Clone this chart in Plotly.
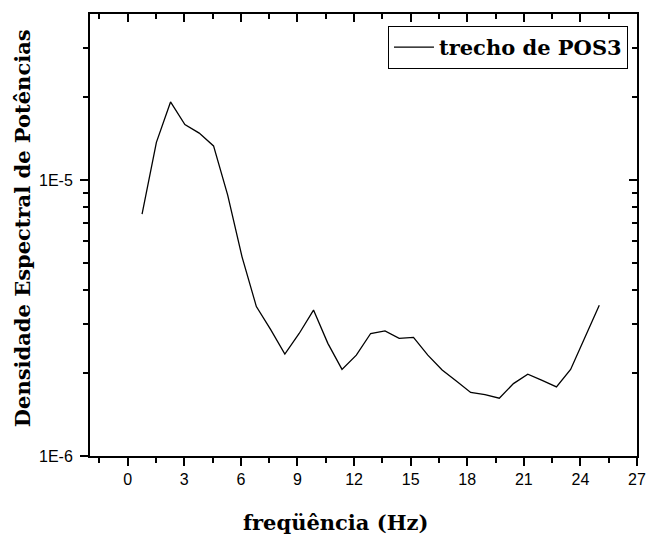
import plotly.graph_objects as go

# Frequency bins (Hz) and power spectral density of the POS3 segment
freq = [0.76, 1.52, 2.27, 3.03, 3.79, 4.55, 5.30, 6.06, 6.82, 7.58, 8.33,
        9.09, 9.85, 10.61, 11.36, 12.12, 12.88, 13.64, 14.39, 15.15, 15.91,
        16.67, 17.42, 18.18, 18.94, 19.70, 20.45, 21.21, 21.97, 22.73, 23.48,
        24.24, 25.00]
psd = [7.53e-6, 1.37e-5, 1.92e-5, 1.59e-5, 1.48e-5, 1.33e-5, 8.82e-6,
       5.27e-6, 3.48e-6, 2.87e-6, 2.34e-6, 2.78e-6, 3.38e-6, 2.56e-6,
       2.06e-6, 2.32e-6, 2.78e-6, 2.84e-6, 2.67e-6, 2.69e-6, 2.32e-6,
       2.05e-6, 1.87e-6, 1.70e-6, 1.67e-6, 1.62e-6, 1.83e-6, 1.98e-6,
       1.88e-6, 1.78e-6, 2.06e-6, 2.70e-6, 3.52e-6]

series_name = "trecho de POS3"
x_title = "freqüência (Hz)"
y_title = "Densidade Espectral de Potências"
x_ticks = [0, 3, 6, 9, 12, 15, 18, 21, 24, 27]
y_ticks = [1e-6, 1e-5]
y_ticktext = ["1E-6", "1E-5"]
y_minor = [2e-6, 3e-6, 4e-6, 5e-6, 6e-6, 7e-6, 8e-6, 9e-6, 2e-5, 3e-5]

x_range = [-2, 27]
y_range = [-6, -4.398]

tick_font = dict(family="Liberation Sans, Arial", size=16, color="black")
title_font = dict(family="DejaVu Serif", size=21, color="black")

fig = go.Figure()
fig.add_trace(go.Scatter(
    x=freq, y=psd, mode="lines", name=series_name,
    line=dict(color="black", width=1.3),
))
# invisible copy that anchors the mirrored top/right axes
fig.add_trace(go.Scatter(
    x=freq, y=psd, mode="lines", xaxis="x2", yaxis="y2",
    line=dict(color="rgba(0,0,0,0)", width=1), showlegend=False,
    hoverinfo="skip",
))

fig.update_layout(
    width=647, height=543,
    margin=dict(l=90, r=10, t=14, b=87),
    paper_bgcolor="white", plot_bgcolor="white",
    showlegend=True,
    legend=dict(
        x=0.9835, y=0.9728, xanchor="right", yanchor="top",
        bordercolor="black", borderwidth=1, bgcolor="white",
        font=dict(family="DejaVu Serif", size=21, color="black", weight="bold"),
        itemwidth=40,
    ),
    xaxis=dict(
        range=x_range, tickvals=x_ticks, ticks="outside", ticklen=8,
        tickwidth=1.5, tickcolor="black", showline=True, linewidth=2,
        linecolor="black", showgrid=False, zeroline=False, tickfont=tick_font,
        automargin=False,
        minor=dict(ticks="outside", ticklen=5, tickwidth=1.5, dtick=1.5,
                   tick0=0, tickcolor="black", showgrid=False),
    ),
    yaxis=dict(
        type="log", range=y_range, tickvals=y_ticks, ticktext=y_ticktext,
        ticks="outside", ticklen=8, tickwidth=1.5, tickcolor="black",
        showline=True, linewidth=2, linecolor="black", showgrid=False,
        zeroline=False, tickfont=tick_font, ticklabelstandoff=4,
        automargin=False,
        minor=dict(ticks="outside", ticklen=5, tickwidth=1.5,
                   tickvals=y_minor, tickcolor="black", showgrid=False),
    ),
    xaxis2=dict(
        overlaying="x", side="top", range=x_range, tickvals=x_ticks,
        ticks="inside", ticklen=8, tickwidth=1.5, tickcolor="black",
        showticklabels=False, showline=True, linewidth=2, linecolor="black",
        showgrid=False, zeroline=False, automargin=False,
        minor=dict(ticks="inside", ticklen=5, tickwidth=1.5, dtick=1.5,
                   tick0=0, tickcolor="black", showgrid=False),
    ),
    yaxis2=dict(
        overlaying="y", side="right", type="log", range=y_range,
        tickvals=y_ticks, ticks="inside", ticklen=8, tickwidth=1.5,
        tickcolor="black", showticklabels=False, showline=True, linewidth=2,
        linecolor="black", showgrid=False, zeroline=False, automargin=False,
        minor=dict(ticks="inside", ticklen=5, tickwidth=1.5,
                   tickvals=y_minor, tickcolor="black", showgrid=False),
    ),
    annotations=[
        dict(text="<b>" + x_title + "</b>", xref="paper", yref="paper",
             x=(335 - 90) / 547, y=-(522 - 455.7) / 441.7,
             xanchor="center", yanchor="middle", showarrow=False,
             font=title_font),
        dict(text="<b>" + y_title + "</b>", xref="paper", yref="paper",
             x=-(90 - 22) / 547, y=(455.7 - 228) / 441.7, textangle=-90,
             xanchor="center", yanchor="middle", showarrow=False,
             font=title_font),
    ],
)

fig.write_html("out.html")
